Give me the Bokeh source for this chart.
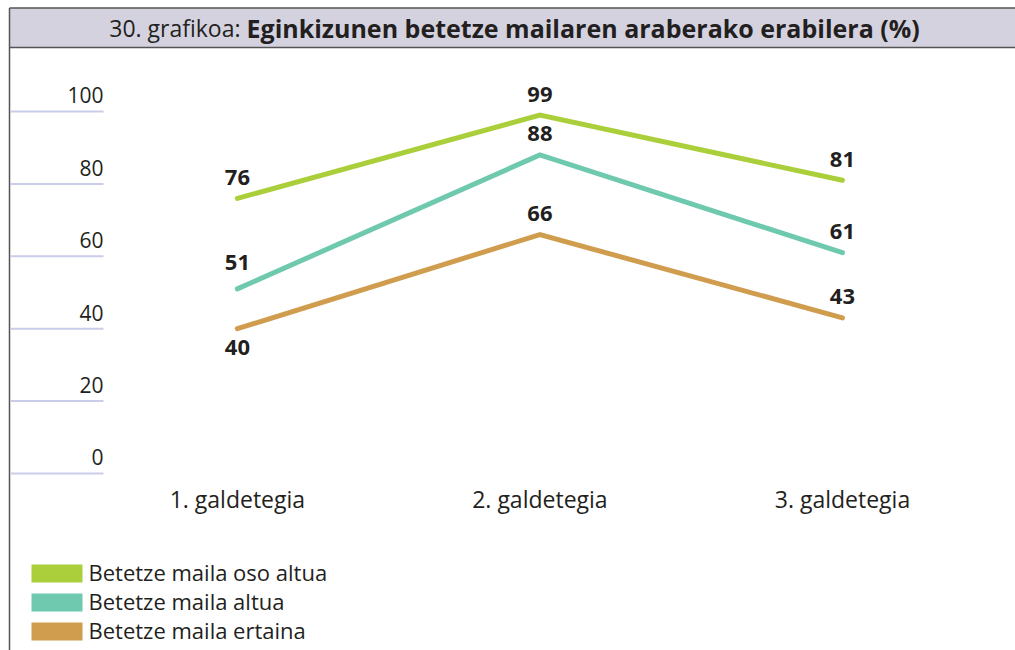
from bokeh.plotting import figure
from bokeh.models import Range1d, ColumnDataSource
from bokeh.core.properties import value
from bokeh.embed import file_html
from bokeh.resources import INLINE

# ---- data ----
categories = ["1. galdetegia", "2. galdetegia", "3. galdetegia"]
series_names = ["Betetze maila oso altua", "Betetze maila altua", "Betetze maila ertaina"]
oso_altua = [76, 99, 81]
altua = [51, 88, 61]
ertaina = [40, 66, 43]
y_ticks = [0, 20, 40, 60, 80, 100]
title_prefix = "30. grafikoa:"
title_main = "Eginkizunen betetze mailaren araberako erabilera (%)"

colors = ["#abcf3a", "#6fc9ae", "#d09c4e"]
FONT = "Open Sans"
TXT = "#231f20"

W, H = 1015, 650
p = figure(width=W, height=H, output_backend="svg", toolbar_location=None,
           x_axis_type=None, y_axis_type=None, min_border=0,
           x_range=Range1d(-0.783, 2.572), y_range=Range1d(-48.9, 130.66))
p.outline_line_color = None
p.background_fill_color = "white"
p.border_fill_color = "white"
p.extra_x_ranges = {"px": Range1d(0, W)}
p.extra_y_ranges = {"py": Range1d(H, 0)}

# header bar
p.quad(left=[9], right=[W + 5], top=[7.5], bottom=[47], fill_color="#d5d2e0",
       line_color=None, x_range_name="px", y_range_name="py")
p.segment(x0=[9, 9], x1=[W + 5, W + 5], y0=[7.5, 47], y1=[7.5, 47], line_color="#555555",
          line_width=1.5, x_range_name="px", y_range_name="py")
p.segment(x0=[9], x1=[9], y0=[7.5], y1=[H + 5], line_color="#555555", line_width=1.5,
          x_range_name="px", y_range_name="py")
p.text(x=[240], y=[27], text=[title_prefix], text_font=value(FONT), text_font_size="23px",
       text_align="right", text_baseline="middle", text_color=TXT,
       x_range_name="px", y_range_name="py")
p.text(x=[246], y=[27], text=[title_main], text_font=value(FONT), text_font_size="25px",
       text_font_style="bold", text_align="left", text_baseline="middle", text_color=TXT,
       x_range_name="px", y_range_name="py")

# y gridlines (short) and labels
p.segment(x0=[10] * len(y_ticks), x1=[103] * len(y_ticks), y0=y_ticks, y1=y_ticks,
          line_color="#c9cde8", line_width=2, x_range_name="px")
p.text(x=[103] * len(y_ticks), y=y_ticks, text=[str(t) for t in y_ticks],
       text_font=value(FONT), text_font_size="21px", text_align="right",
       text_baseline="middle", y_offset=-16, text_color=TXT, x_range_name="px")

# x category labels
xs = list(range(len(categories)))
p.text(x=xs, y=[498] * len(xs), text=categories, text_font=value(FONT),
       text_font_size="23px", text_align="center", text_baseline="middle",
       text_color=TXT, y_range_name="py")

# lines
all_series = [oso_altua, altua, ertaina]
for vals, col in zip(all_series, colors):
    p.line(x=xs, y=vals, line_color=col, line_width=5, line_cap="round", line_join="miter")

# value labels
for vals, is_bottom in zip(all_series, [False, False, True]):
    offs = []
    for i, v in enumerate(vals):
        if is_bottom and i == 0:
            offs.append(19)
        elif vals is altua and i == 0:
            offs.append(-26)
        else:
            offs.append(-21)
    src = ColumnDataSource(dict(x=xs, y=vals, t=[str(v) for v in vals], o=offs))
    p.text(x="x", y="y", text="t", y_offset="o", source=src, text_font=value(FONT),
           text_font_size="22px", text_font_style="bold", text_align="center",
           text_baseline="middle", text_color=TXT)

# legend
ly = [573, 602, 631]
p.rect(x=[56.5] * 3, y=ly, width=51, height=18, fill_color=colors, line_color=None,
       x_range_name="px", y_range_name="py")
p.text(x=[88] * 3, y=[v - 2 for v in ly], text=series_names, text_font=value(FONT),
       text_font_size="22px", text_align="left", text_baseline="middle", text_color=TXT,
       x_range_name="px", y_range_name="py")

open("out.html", "w").write(file_html(p, INLINE))
